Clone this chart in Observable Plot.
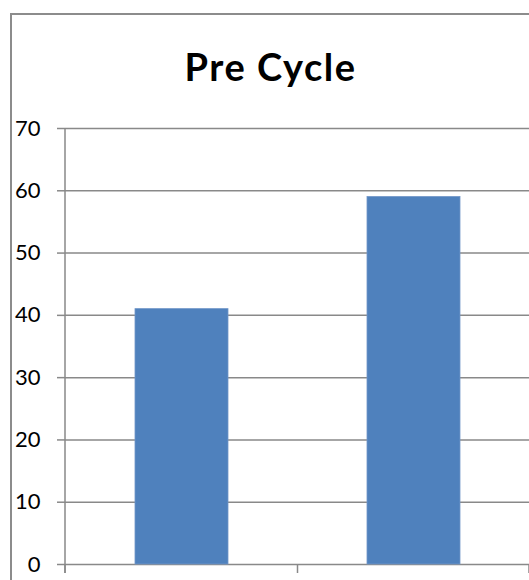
<!DOCTYPE html>
<html><head><meta charset="utf-8">
<script src="https://cdn.jsdelivr.net/npm/d3@7"></script>
<script src="https://cdn.jsdelivr.net/npm/@observablehq/plot@0.6"></script>
<style>
html,body{margin:0;padding:0;background:#fff;overflow:hidden}
#frame{position:absolute;left:10px;top:13px;width:519px;height:567px;border-left:2px solid #8c8c8c;border-top:2px solid #8c8c8c;box-sizing:border-box;overflow:hidden}
#title{height:85px;box-sizing:border-box;padding-top:30px;font:700 38px/42px Lato,sans-serif;letter-spacing:1.5px;text-align:center;color:#000}
svg{display:block}
</style></head><body>
<div id="frame"><div id="title">Pre Cycle</div><div id="chart"></div></div>
<script>
const categories = ["Category 1", "Category 2"];
const values = [41, 59];
const yTicks = [0, 10, 20, 30, 40, 50, 60, 70];

const data = categories.map((c, i) => ({category: c, value: values[i]}));
const gridColor = "#898989";

function categoryAxis(index, scales) {
  const x = scales.x, y = scales.y;
  const [r0, r1] = x.range();
  const bw = x.bandwidth();
  const bounds = [r0];
  for (let i = 0; i < categories.length - 1; i++) {
    bounds.push((x(categories[i]) + bw + x(categories[i + 1])) / 2);
  }
  bounds.push(r1);
  const y0 = y(yTicks[0]), yTop = y(yTicks[yTicks.length - 1]);
  const g = d3.create("svg:g").attr("stroke", gridColor).attr("stroke-width", 1.5);
  g.append("line").attr("x1", r0).attr("x2", r0).attr("y1", yTop).attr("y2", y0 + 9);
  for (const b of bounds) {
    g.append("line").attr("x1", b).attr("x2", b).attr("y1", y0).attr("y2", y0 + 9);
  }
  return g.node();
}

const chart = Plot.plot({
  width: 517,
  height: 480,
  marginLeft: 53,
  marginRight: 0,
  marginTop: 28,
  marginBottom: 16,
  style: {fontFamily: "Lato, sans-serif", background: "transparent", overflow: "visible"},
  x: {type: "band", domain: categories, paddingInner: 0.6, paddingOuter: 0.3, axis: null},
  y: {domain: [0, 70], axis: null},
  marks: [
    Plot.gridY(yTicks, {stroke: gridColor, strokeOpacity: 1, strokeWidth: 1.5}),
    Plot.axisY(yTicks, {tickSize: 8, tickPadding: 17, fontSize: 22, stroke: gridColor, strokeWidth: 1.5, fill: "#000", label: null, tickFormat: d => String(d)}),
    Plot.barY(data, {x: "category", y: "value", fill: "#4F81BD", stroke: "#7096c8", strokeWidth: 0.8}),
    categoryAxis
  ]
});
document.getElementById("chart").appendChild(chart);
</script>
</body></html>
